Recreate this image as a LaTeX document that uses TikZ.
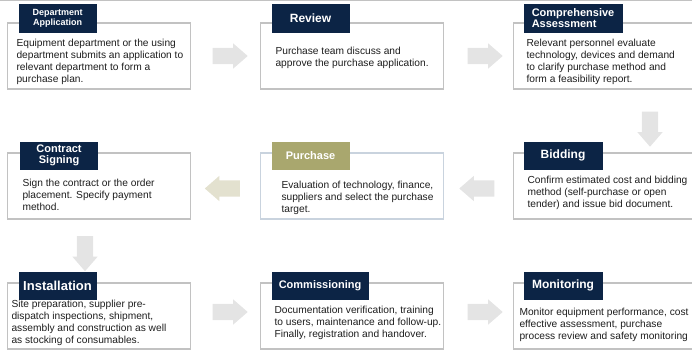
\documentclass[tikz,border=0pt]{standalone}
\usepackage{fontspec}
\setmainfont{Liberation Sans}
\usetikzlibrary{shapes.arrows,calc,positioning}
\definecolor{headnavy}{HTML}{0C2445}
\definecolor{headolive}{HTML}{A9A76E}
\definecolor{boxgrey}{HTML}{C2C2C2}
\definecolor{boxblue}{HTML}{C9D3DE}
\definecolor{arrowgrey}{HTML}{E4E4E4}
\definecolor{arrowbeige}{HTML}{E3E1CF}
\definecolor{bodyblack}{HTML}{1E1E1E}
\begin{document}
\begin{tikzpicture}[
    node distance=253pt,
    box/.style={draw=boxgrey, line width=1.3pt, fill=white, minimum width=183pt, minimum height=66pt, inner sep=0pt},
    head/.style={fill=headnavy, text=white, minimum height=28pt, inner sep=2pt, align=center, anchor=north west,
      font=\bfseries\fontsize{11}{11.3}\selectfont},
    body/.style={anchor=north west, inner sep=0pt, align=left, text=bodyblack, font=\fontsize{10.2}{12}\selectfont},
    flow/.style={single arrow, fill=arrowgrey, minimum height=35pt, minimum width=25pt,
      single arrow head extend=4.5pt, single arrow tip angle=82, inner sep=8pt}
  ]
    \useasboundingbox (0,0) rectangle (692pt,-352pt);
    \clip (0,0) rectangle (692pt,-352pt);
    \draw[boxgrey, line width=1.5pt] (0,0) -- (692pt,0);

    \node[box] (app) at (99pt,-56pt) {};
    \node[box, right of=app] (rev) {};
    \node[box, right of=rev] (assess) {};
    \node[box, below of=app, node distance=130pt] (con) {};
    \node[box, below of=rev, node distance=130pt, draw=boxblue] (pur) {};
    \node[box, below of=assess, node distance=130pt] (bid) {};
    \node[box, below of=con, node distance=130pt] (inst) {};
    \node[box, below of=pur, node distance=130pt, draw=boxgrey] (comm) {};
    \node[box, below of=bid, node distance=130pt] (mon) {};

    \node[head, minimum width=78pt, minimum height=29pt, font=\bfseries\fontsize{9}{9.6}\selectfont] (apph)
      at ([shift={(11.5pt,19pt)}]app.north west) {Department\\Application};
    \node[head, minimum width=78pt, minimum height=29pt, font=\bfseries\fontsize{12}{13}\selectfont] (revh)
      at ([shift={(11.5pt,19pt)}]rev.north west) {Review};
    \node[head, minimum width=99pt, minimum height=29pt, align=left, font=\bfseries\fontsize{11}{10.5}\selectfont] (assessh)
      at ([shift={(10.5pt,19pt)}]assess.north west) {Comprehensive\\Assessment};
    \node[head, minimum width=78pt] (conh) at ([shift={(13pt,11pt)}]con.north west) {Contract\\Signing};
    \node[head, minimum width=78pt, fill=headolive] (purh) at ([shift={(11.5pt,11pt)}]pur.north west) {Purchase};
    \node[head, minimum width=79pt, font=\bfseries\fontsize{12}{13}\selectfont] (bidh)
      at ([shift={(10.5pt,11pt)}]bid.north west) {Bidding};
    \node[head, minimum width=78pt, font=\bfseries\fontsize{13}{14}\selectfont] (insth)
      at ([shift={(11.5pt,11pt)}]inst.north west) {Installation};
    \node[head, minimum width=97pt] (commh) at ([shift={(11.5pt,11pt)}]comm.north west) {Commissioning};
    \node[head, minimum width=79pt, font=\bfseries\fontsize{12}{13}\selectfont] (monh)
      at ([shift={(10.5pt,11pt)}]mon.north west) {Monitoring};

    \node[body] (appt) at ([shift={(9.5pt,-16.3pt)}]app.north west)
      {Equipment department or the using\\department submits an application to\\relevant department to form a\\purchase plan.};
    \node[body] (revt) at ([shift={(15.5pt,-24.3pt)}]rev.north west)
      {Purchase team discuss and\\approve the purchase application.};
    \node[body] (assesst) at ([shift={(13.5pt,-16.3pt)}]assess.north west)
      {Relevant personnel evaluate\\technology, devices and demand\\to clarify purchase method and\\form a feasibility report.};
    \node[body] (cont) at ([shift={(15.5pt,-26.3pt)}]con.north west)
      {Sign the contract or the order\\placement. Specify payment\\method.};
    \node[body] (purt) at ([shift={(21.5pt,-28.3pt)}]pur.north west)
      {Evaluation of technology, finance,\\suppliers and select the purchase\\target.};
    \node[body] (bidt) at ([shift={(14.5pt,-23.3pt)}]bid.north west)
      {Confirm estimated cost and bidding\\method (self-purchase or open\\tender) and issue bid document.};
    \node[body] (instt) at ([shift={(4.5pt,-18pt)}]inst.north west)
      {Site preparation, supplier pre-\\dispatch inspections, shipment,\\assembly and construction as well\\as stocking of consumables.};
    \node[body] (commt) at ([shift={(14.5pt,-23.3pt)}]comm.north west)
      {Documentation verification, training\\to users, maintenance and follow-up.\\Finally, registration and handover.};
    \node[body] (mont) at ([shift={(6.5pt,-25.3pt)}]mon.north west)
      {Monitor equipment performance, cost\\effective assessment, purchase\\process review and safety monitoring};

    \node[flow] (a1) at ($(app.east)!0.5!(rev.west)$) {};
    \node[flow] (a2) at ($(rev.east)!0.5!(assess.west)+(2pt,0)$) {};
    \node[flow, shape border rotate=270] (a3) at ($(assess.south)!0.5!(bid.north)+(45pt,-3.5pt)$) {};
    \node[flow, shape border rotate=180] (a4) at ($(bid.west)!0.5!(pur.east)+(3pt,-2.5pt)$) {};
    \node[flow, shape border rotate=180, fill=arrowbeige] (a5) at ($(pur.west)!0.5!(con.east)+(1.5pt,-2.5pt)$) {};
    \node[flow, shape border rotate=270] (a6) at ($(con.south)!0.5!(inst.north)+(-14pt,2pt)$) {};
    \node[flow] (a7) at ($(inst.east)!0.5!(comm.west)+(0,4pt)$) {};
    \node[flow] (a8) at ($(comm.east)!0.5!(mon.west)+(2pt,4pt)$) {};
  \end{tikzpicture}
\end{document}
